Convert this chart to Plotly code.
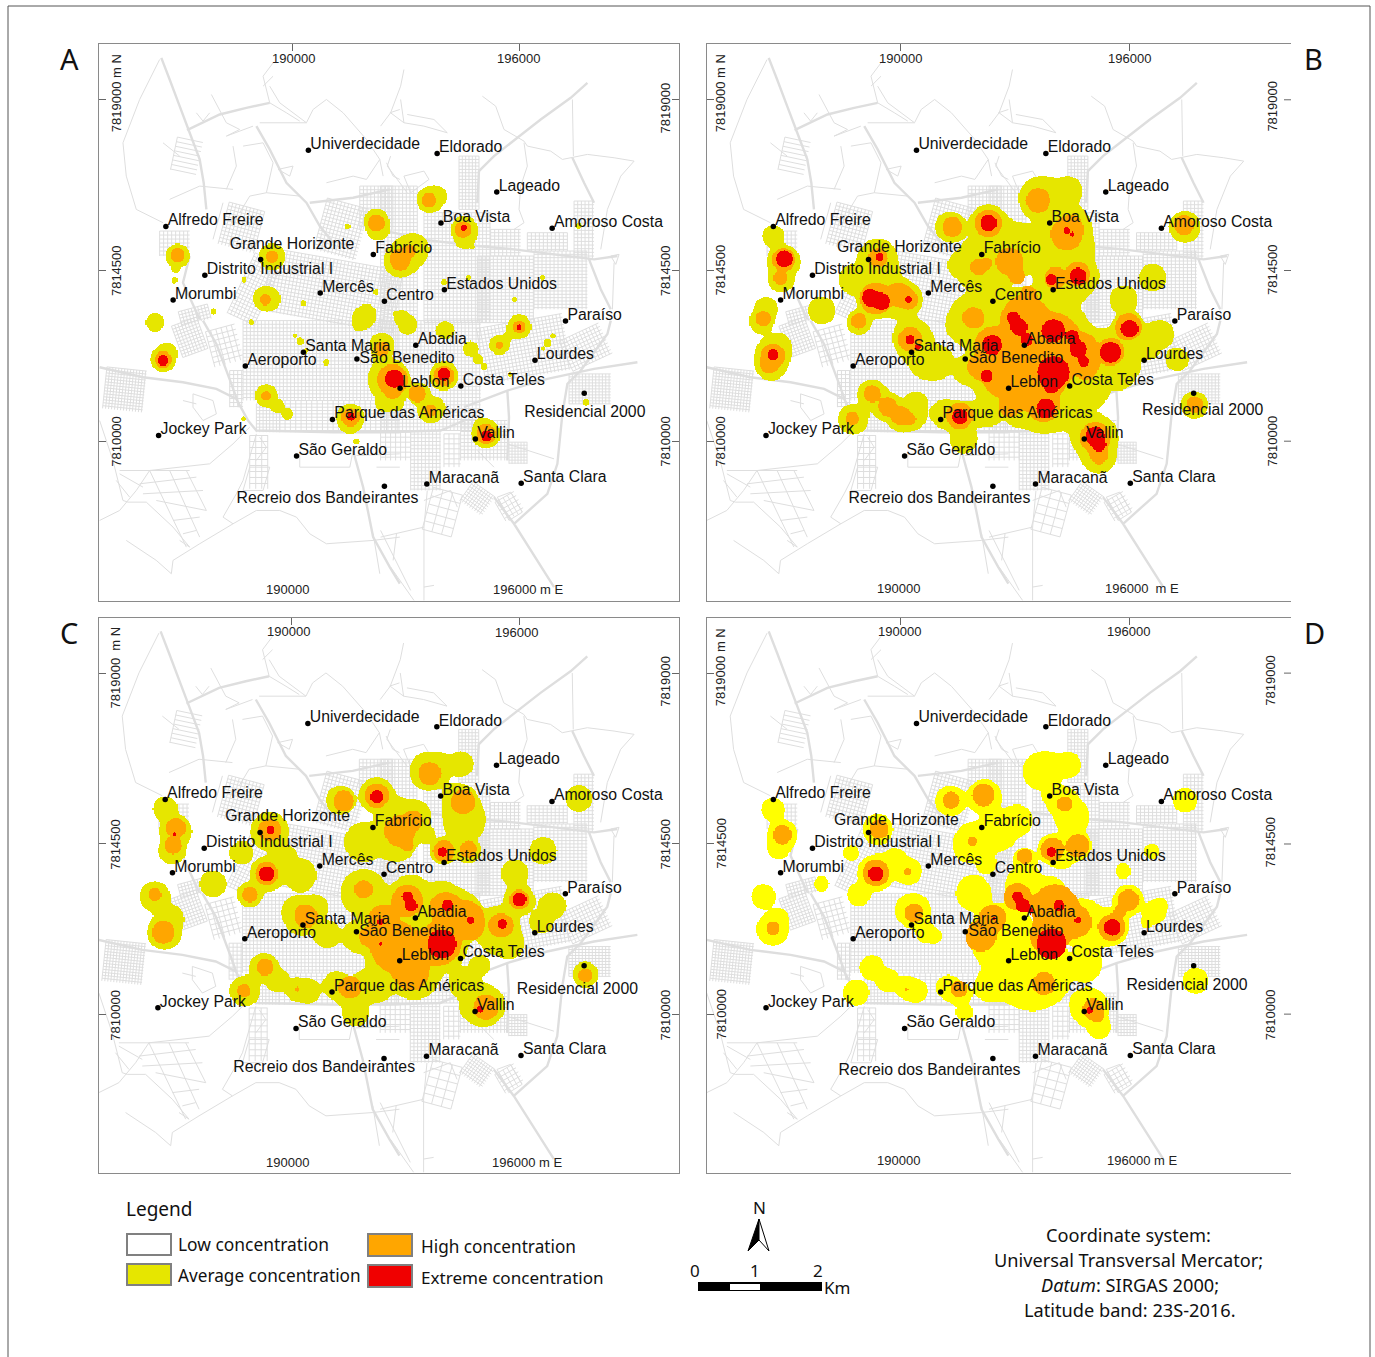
import math
import numpy as np
import plotly.graph_objects as go

W, H = 1375, 1357
YEL, ORG, RED = "#e6e600", "#ffa600", "#f00000"
YEL_D = "#ffff00"
STREET = "#dedede"
FONT_MAP = "Liberation Sans"
FONT_PAGE = "Noto Sans"

# ---- places (map grid units) ----
place_names = ["Univerdecidade", "Eldorado", "Lageado", "Boa Vista", "Amoroso Costa", "Alfredo Freire",
               "Grande Horizonte", "Fabrício", "Distrito Industrial I", "Estados Unidos", "Mercês", "Morumbi",
               "Centro", "Paraíso", "Abadia", "Santa Maria", "Lourdes", "Aeroporto", "São Benedito", "Leblon",
               "Costa Teles", "Residencial 2000", "Parque das Américas", "Jockey Park", "Vallin", "São Geraldo",
               "Recreio dos Bandeirantes", "Maracanã", "Santa Clara"]
place_x = [570, 907, 1063, 917, 1208, 197, 445, 740, 299, 926, 601, 216, 769, 1243, 851, 557, 1163, 405, 697, 810,
           969, 1292, 633, 178, 1007, 539, 769, 880, 1127]
place_y = [304, 313, 419, 504, 519, 514, 605, 591, 648, 688, 697, 716, 720, 774, 841, 860, 882, 898, 879, 959,
           953, 973, 1045, 1089, 1099, 1146, 1229, 1223, 1221]

# ---- street network, digitised per map quadrant ----
quad_origin = {1: (23.6, 8.25), 2: (759, 8.25), 3: (23.6, 773), 4: (759, 773)}
q_main = {
    1: [[(185, 45), (210, 110), (240, 190), (270, 270), (300, 350), (312, 420), (320, 500)],
        [(262, 262), (360, 215), (440, 195), (510, 180)],
        [(470, 250), (510, 320), (560, 420), (620, 480), (660, 550), (700, 600)],
        [(630, 480), (760, 465), (870, 440)], [(270, 640), (250, 720), (300, 830)]],
    2: [[(620, 120), (570, 165), (480, 230), (410, 285), (340, 340), (295, 385), (290, 480)],
        [(575, 345), (610, 420), (640, 480)], [(625, 650), (660, 740), (690, 800)],
        [(290, 610), (400, 620), (640, 650), (710, 640)], [(0, 560), (120, 590), (290, 610)]],
    3: [[(0, 140), (130, 170), (250, 185), (350, 205), (410, 235), (445, 300), (470, 330), (700, 335), (900, 335)],
        [(310, 0), (350, 70), (395, 190), (420, 260)],
        [(760, 390), (790, 500), (820, 650), (870, 740), (900, 790)]],
    4: [[(770, 125), (640, 145), (500, 175), (380, 210), (250, 260)],
        [(690, 0), (680, 40), (600, 150), (560, 190), (545, 280), (530, 430), (500, 520), (400, 610)],
        [(340, 530), (400, 610), (520, 800)], [(380, 210), (385, 290), (380, 420)],
        [(0, 335), (180, 330), (250, 300)]],
}
q_minor = {
    1: [[(180, 50), (120, 170), (70, 300), (80, 400), (110, 500), (190, 540)], [(210, 470), (300, 430), (400, 440)],
        [(335, 155), (380, 240)], [(290, 210), (310, 235), (330, 210)], [(380, 240), (420, 260), (380, 280), (460, 250)],
        [(400, 310), (410, 370), (380, 440)], [(430, 310), (490, 300), (520, 360), (500, 450), (450, 460), (420, 510)],
        [(500, 450), (600, 460)], [(510, 180), (490, 100), (520, 60)], [(490, 130), (520, 100)],
        [(510, 130), (540, 180), (620, 240), (640, 200), (680, 170), (730, 210), (800, 290), (840, 350), (850, 400)],
        [(620, 240), (480, 240)], [(680, 420), (760, 400), (800, 410), (840, 350)], [(870, 210), (900, 200)],
        [(860, 360), (880, 400), (900, 410)], [(370, 480), (340, 590)], [(510, 180), (560, 210), (600, 235)],
        [(190, 300), (240, 340)], [(535, 380), (580, 370), (570, 400), (535, 380)]],
    2: [[(305, 160), (345, 190), (370, 260), (430, 295), (440, 310), (510, 325), (545, 350), (620, 335), (700, 345),
         (760, 355), (720, 400), (680, 500), (660, 620)],
        [(430, 300), (440, 370), (420, 430), (415, 500), (430, 540), (400, 560)],
        [(70, 80), (60, 130), (30, 210), (70, 240), (130, 250), (200, 270)], [(80, 215), (160, 230), (200, 270)],
        [(70, 240), (60, 170)], [(30, 340), (20, 370), (50, 410), (80, 450)],
        [(70, 400), (130, 385), (145, 410), (90, 450), (70, 400)], [(575, 170), (578, 340)],
        [(690, 640), (715, 635), (705, 665), (690, 640)], [(700, 660), (695, 800)], [(0, 250), (30, 210)]],
    3: [[(0, 300), (40, 420), (70, 540), (85, 545)], [(0, 600), (60, 570), (110, 510), (150, 450), (330, 430), (400, 370), (450, 320)],
        [(60, 450), (270, 450)], [(150, 450), (260, 680)], [(210, 450), (300, 650)], [(260, 450), (320, 570)],
        [(120, 490), (290, 470)], [(130, 520), (310, 510)], [(170, 540), (320, 570)], [(220, 600), (300, 590)],
        [(250, 640), (290, 630)], [(270, 680), (240, 660)], [(85, 545), (140, 545), (220, 620), (270, 680)],
        [(470, 340), (430, 480), (410, 520), (370, 590), (400, 610), (470, 570), (540, 570), (590, 590), (630, 640),
         (680, 670), (820, 660), (900, 650)],
        [(400, 610), (300, 670), (220, 720), (215, 760), (170, 720), (80, 660)],
        [(600, 390), (600, 440), (750, 440), (760, 390)], [(280, 220), (340, 240), (350, 280), (310, 300), (280, 260), (280, 220)],
        [(250, 240), (290, 250)], [(450, 440), (510, 440), (490, 510), (430, 510), (450, 440)],
        [(480, 350), (500, 380), (470, 420)], [(770, 405), (900, 400)], [(830, 440), (900, 440)],
        [(820, 640), (840, 760)], [(890, 640), (880, 720)], [(60, 460), (130, 500)], [(50, 480), (90, 530)]],
    4: [[(290, 390), (340, 440)], [(380, 370), (520, 415)], [(130, 540), (210, 510), (230, 560)],
        [(350, 530), (390, 515), (425, 575), (385, 600), (350, 530)], [(0, 630), (90, 810)], [(130, 620), (130, 840)],
        [(130, 800), (160, 795)], [(0, 650), (130, 620)], [(30, 740), (100, 840)], [(140, 510), (130, 620)]],
}
# x0, y0, x1, y1, spacing x, spacing y, angle in degrees
q_blocks = {
    1: [(180, 565, 270, 640, 12, 12, 0), (222, 290, 300, 390, 1000, 14, 12), (370, 490, 480, 620, 11, 11, 15),
        (660, 480, 790, 640, 11, 11, 15), (780, 430, 880, 560, 11, 11, 0), (500, 650, 900, 840, 11, 11, 10),
        (240, 795, 330, 840, 10, 10, -15), (420, 640, 510, 840, 11, 11, 25)],
    2: [(235, 340, 295, 500, 10, 10, 0), (0, 430, 110, 840, 11, 11, 0), (130, 510, 330, 840, 11, 11, 0),
        (330, 560, 420, 640, 12, 10, 0), (440, 570, 560, 625, 12, 10, 0), (460, 625, 620, 800, 12, 10, 0),
        (580, 475, 640, 650, 11, 11, 0), (290, 640, 460, 840, 12, 10, 0)],
    3: [(15, 145, 135, 270, 9, 9, 6), (230, 0, 310, 100, 10, 10, -20), (330, 20, 420, 130, 16, 16, -15),
        (390, 150, 430, 260, 12, 12, 0), (430, 0, 900, 240, 11, 11, 0), (540, 240, 900, 335, 16, 10, 0),
        (470, 250, 540, 335, 10, 10, 0), (450, 345, 505, 505, 18, 18, 0)],
    4: [(0, 0, 300, 330, 11, 11, 0), (300, 0, 560, 170, 11, 11, -10), (550, 30, 680, 130, 11, 11, -25),
        (565, 160, 690, 250, 10, 9, 0), (385, 365, 440, 430, 9, 9, 0), (90, 330, 180, 510, 11, 11, 0),
        (250, 500, 330, 570, 9, 9, 35), (240, 300, 380, 420, 11, 11, 0), (140, 510, 230, 640, 30, 26, 15),
        (355, 525, 420, 590, 14, 14, -30), (190, 340, 240, 440, 15, 15, 0), (0, 335, 90, 420, 15, 15, 0)],
}

# ---- density blobs: x, y, radius (map grid units) per panel and class ----
A_yellow = [(888, 440, 34), (905, 430, 26), (748, 495, 30), (752, 520, 30), (810, 610, 42), (845, 575, 40), (830, 590, 40),
            (978, 520, 34), (980, 545, 28), (1000, 570, 6), (228, 595, 32), (222, 630, 10), (219, 662, 8), (475, 597, 35),
            (458, 712, 32), (470, 715, 26), (168, 778, 24), (190, 880, 33), (200, 860, 25), (322, 748, 9), (402, 660, 7),
            (557, 725, 7), (420, 777, 8), (747, 694, 7), (672, 514, 8), (925, 667, 8), (990, 655, 7), (1183, 655, 8),
            (1110, 715, 7), (1278, 512, 8), (715, 765, 30), (700, 785, 14), (725, 750, 20), (815, 765, 20), (830, 785, 25),
            (800, 755, 8), (928, 800, 24), (995, 850, 20), (1015, 880, 14), (1030, 900, 8), (1070, 840, 26), (1122, 790, 32),
            (1095, 815, 12), (1197, 835, 10), (1210, 815, 7), (1185, 850, 6), (548, 830, 10), (535, 815, 5), (565, 855, 7),
            (763, 840, 32), (760, 870, 18), (617, 888, 8), (780, 935, 55), (800, 950, 30), (770, 1000, 24), (800, 1000, 20),
            (925, 925, 38), (860, 975, 28), (890, 1020, 34), (905, 1010, 20), (460, 980, 30), (490, 1010, 18), (515, 1030, 15),
            (400, 1043, 7), (680, 1040, 37), (680, 1060, 22), (695, 1105, 8), (1035, 1085, 38), (1025, 1060, 18), (1297, 998, 8),
            (1097, 922, 7)]
A_orange = [(885, 442, 20), (748, 505, 22), (810, 605, 28), (835, 580, 16), (975, 522, 22), (228, 593, 19), (475, 597, 16),
            (458, 715, 15), (190, 880, 22), (1070, 840, 10), (1122, 790, 16), (762, 850, 20), (790, 935, 40), (790, 970, 18),
            (925, 925, 27), (855, 975, 22), (890, 1020, 16), (460, 980, 13), (680, 1040, 24), (1035, 1085, 26)]
A_red = [(977, 518, 9), (190, 882, 14), (1122, 791, 7), (795, 933, 24), (810, 945, 10), (925, 920, 17), (682, 1038, 10),
         (1038, 1090, 14)]

B_yellow = [(191, 540, 28), (218, 610, 44), (212, 660, 34), (172, 740, 30), (160, 775, 32), (190, 865, 45), (185, 895, 40),
            (205, 840, 30), (318, 745, 36), (415, 778, 32), (465, 600, 50), (430, 610, 18), (400, 660, 38), (460, 712, 50),
            (520, 710, 50), (545, 715, 35), (480, 640, 40), (555, 820, 50), (590, 890, 40), (565, 850, 40), (620, 890, 40),
            (655, 515, 40), (755, 505, 48), (790, 540, 30), (740, 620, 70), (810, 580, 70), (850, 560, 40), (680, 620, 30),
            (890, 435, 55), (965, 415, 36), (920, 430, 40), (960, 520, 65), (985, 575, 45), (930, 530, 30), (1270, 515, 42),
            (930, 640, 40), (960, 650, 70), (1000, 650, 40), (940, 700, 40), (1185, 655, 36), (1110, 715, 36), (715, 770, 65),
            (680, 790, 30), (760, 750, 25), (770, 830, 60), (850, 780, 85), (930, 820, 90), (900, 900, 105), (800, 920, 90),
            (1000, 870, 60), (1020, 960, 50), (900, 1000, 78), (1080, 870, 60), (1110, 900, 40), (1100, 930, 30), (960, 1020, 40),
            (830, 1030, 30), (760, 1030, 30), (700, 910, 35), (620, 885, 30), (1075, 860, 45), (1122, 790, 40), (1100, 830, 25),
            (1205, 810, 36), (1175, 850, 28), (1250, 880, 30), (1180, 820, 30), (450, 975, 38), (490, 1010, 38), (530, 1040, 38),
            (565, 1000, 30), (560, 1040, 30), (400, 1045, 40), (640, 1030, 36), (680, 1040, 40), (690, 1100, 36), (730, 1030, 30),
            (1035, 1095, 60), (1045, 1150, 42), (1000, 1080, 25), (1295, 1005, 36)]
B_orange = [(218, 605, 30), (210, 655, 18), (165, 768, 20), (190, 870, 32), (180, 895, 22), (415, 775, 20), (465, 600, 25),
            (460, 712, 42), (520, 700, 30), (545, 715, 25), (550, 825, 32), (660, 515, 26), (755, 505, 36), (810, 610, 36),
            (730, 625, 22), (750, 615, 14), (830, 650, 20), (885, 442, 32), (960, 535, 42), (975, 510, 25), (1268, 510, 26),
            (930, 655, 28), (990, 645, 32), (715, 765, 28), (765, 840, 45), (850, 770, 62), (860, 700, 20), (930, 820, 62),
            (1000, 850, 40), (900, 910, 72), (800, 920, 62), (730, 900, 30), (840, 980, 36), (900, 1010, 40), (810, 1010, 26),
            (1010, 900, 32), (1075, 860, 35), (1122, 790, 35), (450, 975, 22), (490, 1010, 24), (525, 1035, 25), (550, 1045, 15),
            (398, 1043, 18), (680, 1035, 35), (1035, 1095, 40), (1045, 1145, 22), (1295, 1005, 22)]
B_red = [(220, 603, 22), (190, 867, 14), (470, 598, 10), (445, 710, 22), (475, 720, 22), (545, 715, 9),
         (550, 825, 12), (570, 845, 8), (755, 505, 22), (960, 525, 8), (975, 535, 6), (920, 660, 14), (990, 650, 22),
         (820, 765, 16), (835, 790, 22), (855, 825, 16), (925, 800, 30), (975, 815, 16), (990, 850, 22), (1005, 885, 14),
         (925, 915, 42), (920, 950, 20), (765, 840, 26), (750, 925, 16), (905, 1015, 25), (1075, 860, 28), (1125, 795, 23),
         (680, 1038, 20), (1035, 1090, 25), (1045, 1115, 18)]

C_yellow = [(197, 548, 32), (225, 610, 42), (215, 665, 35), (170, 790, 40), (195, 890, 45), (210, 850, 35), (322, 755, 35),
            (418, 785, 33), (470, 610, 50), (395, 670, 30), (465, 728, 45), (510, 680, 30), (550, 730, 42), (540, 830, 36),
            (590, 820, 32), (555, 850, 45), (620, 895, 35), (655, 525, 38), (750, 510, 45), (790, 550, 30), (715, 640, 50),
            (810, 590, 60), (850, 570, 40), (800, 640, 50), (880, 620, 20), (885, 445, 50), (970, 425, 32), (920, 430, 30),
            (970, 530, 45), (980, 580, 55), (950, 510, 25), (1278, 520, 35), (925, 665, 35), (990, 665, 32), (1185, 665, 36),
            (1110, 725, 35), (715, 780, 60), (770, 830, 40), (840, 790, 55), (920, 790, 40), (960, 840, 65), (915, 920, 70),
            (800, 950, 80), (850, 1010, 60), (720, 1040, 40), (980, 1030, 40), (1020, 980, 25), (700, 900, 40), (1070, 870, 50),
            (1095, 920, 40), (1060, 900, 40), (1122, 798, 40), (1210, 815, 35), (1180, 860, 30), (455, 985, 38), (490, 1020, 30),
            (540, 1045, 30), (570, 1050, 32), (405, 1050, 40), (645, 1035, 36), (680, 1060, 35), (695, 1110, 35), (755, 1040, 35),
            (1030, 1090, 55), (1000, 1095, 30), (1295, 1005, 34)]
C_orange = [(225, 600, 26), (218, 650, 22), (170, 785, 17), (192, 888, 30), (418, 785, 20), (470, 607, 30), (462, 727, 30),
            (565, 845, 30), (555, 830, 15), (663, 527, 27), (750, 512, 32), (810, 610, 40), (845, 580, 25), (830, 650, 15),
            (888, 452, 30), (975, 530, 32), (925, 665, 28), (990, 660, 22), (715, 770, 24), (765, 850, 35), (830, 800, 40),
            (930, 820, 40), (985, 850, 45), (915, 920, 55), (800, 930, 65), (840, 1000, 45), (1000, 880, 25), (730, 900, 25),
            (1075, 870, 32), (1122, 798, 26), (458, 985, 22), (542, 1045, 6), (403, 1050, 17), (680, 1040, 30), (1035, 1095, 33),
            (1295, 1007, 18)]
C_red = [(222, 618, 5), (473, 607, 10), (463, 727, 20), (750, 516, 17), (922, 667, 12), (830, 790, 14), (840, 815, 16),
         (935, 815, 15), (995, 855, 10), (920, 920, 38), (760, 860, 9), (760, 920, 5), (1123, 798, 18), (1078, 865, 12),
         (1020, 1100, 8)]

D_yellow = [(190, 550, 30), (215, 620, 40), (205, 655, 30), (165, 790, 32), (190, 880, 43), (205, 850, 25), (317, 755, 20),
            (415, 785, 30), (395, 670, 20), (465, 605, 40), (460, 725, 48), (510, 690, 30), (545, 720, 35), (560, 830, 45),
            (590, 890, 25), (612, 898, 20), (545, 825, 30), (655, 527, 40), (745, 515, 45), (715, 640, 50), (780, 610, 50),
            (830, 580, 40), (700, 660, 30), (760, 640, 25), (895, 445, 50), (965, 428, 33), (920, 430, 30), (950, 530, 40),
            (975, 570, 45), (920, 515, 22), (1270, 525, 32), (925, 660, 40), (985, 650, 40), (950, 680, 30), (1183, 665, 20),
            (1108, 720, 20), (715, 780, 45), (750, 700, 25), (850, 760, 50), (790, 900, 85), (870, 1000, 100), (780, 1020, 40),
            (1000, 860, 60), (920, 780, 40), (1010, 980, 40), (1020, 950, 25), (1050, 880, 40), (850, 690, 30), (1078, 875, 45),
            (1122, 800, 40), (1190, 835, 30), (1205, 815, 20), (1170, 860, 15), (450, 985, 32), (490, 1020, 30), (540, 1040, 30),
            (565, 1050, 30), (408, 1055, 34), (650, 1040, 32), (680, 1060, 30), (692, 1110, 22), (755, 1040, 35), (1020, 1095, 50),
            (1045, 1150, 30), (1298, 1022, 34)]
D_orange = [(215, 620, 25), (190, 878, 18), (468, 605, 25), (460, 725, 35), (543, 722, 10), (560, 835, 25), (657, 525, 22),
            (742, 510, 30), (713, 638, 12), (955, 535, 20), (922, 660, 30), (990, 650, 30), (850, 680, 20), (765, 850, 35),
            (830, 790, 35), (930, 820, 60), (985, 860, 40), (915, 900, 50), (735, 900, 40), (900, 1030, 30), (1078, 875, 35),
            (1122, 800, 28), (1100, 830, 15), (540, 1045, 5), (678, 1045, 22), (1030, 1100, 28), (1040, 1120, 16)]
D_red = [(460, 727, 20), (920, 667, 12), (830, 790, 14), (845, 815, 18), (865, 830, 8), (940, 815, 15), (990, 855, 9),
         (920, 920, 40), (770, 850, 5), (1080, 875, 22), (1020, 1103, 8)]

# ---- panel set-up ----
panels = [
    dict(name="A", dom=(99, 679, 43.5, 601), xr=(22, 1540), yr=(1545, 10), tf=(1, 0, 1, 0), right=True, yel=YEL,
         blobs=(A_yellow, A_orange, A_red), xt=(528, 1123), yt=(165, 635, 1105), lx=68, rx=1505,
         lefts=[("7819000 m N", 148), ("7814500", 635), ("7810000", 1105)],
         rights=[("7819000", 187), ("7814500", 635), ("7810000", 1105)],
         tops=[("190000", 531, 52), ("196000", 1119, 52)], bots=[("190000", 515, 1512), ("196000 m E", 1144, 1512)],
         lab={"Grande Horizonte": (364, 566), "Residencial 2000": (1135, 1027), "Recreio dos Bandeirantes": (382, 1263),
              "São Benedito": (704, 880)}),
    dict(name="B", dom=(706.5, 1291, 43.5, 601), xr=(16, 1547), yr=(1545, 10), tf=(1.00548, -7.08, 1, 0), right=False, yel=YEL,
         blobs=(B_yellow, B_orange, B_red), xt=(523, 1123), yt=(165, 635, 1105), lx=53, rx=1498,
         lefts=[("7819000 m N", 148), ("7814500", 633), ("7810000", 1105)],
         rights=[("7819000", 183), ("7814500", 633), ("7810000", 1105)],
         tops=[("190000", 525, 52), ("196000", 1123, 52)], bots=[("190000", 520, 1510), ("196000  m E", 1158, 1510)],
         lab={"Grande Horizonte": (358, 574), "Residencial 2000": (1157, 1022), "Recreio dos Bandeirantes": (388, 1263),
              "São Benedito": (702, 880)}),
    dict(name="C", dom=(99, 679, 617.5, 1173), xr=(24, 1540), yr=(1550, 22), tf=(1, 0, 0.996, 11), right=True, yel=YEL,
         blobs=(C_yellow, C_orange, C_red), xt=(528, 1123), yt=(175, 645, 1113), lx=68, rx=1505,
         lefts=[("7819000  m N", 160), ("7814500", 645), ("7810000", 1115)],
         rights=[("7819000", 197), ("7814500", 645), ("7810000", 1115)],
         tops=[("190000", 518, 60), ("196000", 1115, 62)], bots=[("190000", 517, 1520), ("196000 m E", 1143, 1520)],
         lab={"Grande Horizonte": (354, 571), "Residencial 2000": (1116, 1046), "Recreio dos Bandeirantes": (375, 1261),
              "São Benedito": (704, 887)}),
    dict(name="D", dom=(706.5, 1291, 617.5, 1173), xr=(16, 1547), yr=(1550, 22), tf=(1.00548, -7.08, 0.996, 11), right=False, yel=YEL_D,
         blobs=(D_yellow, D_orange, D_red), xt=(523, 1123), yt=(175, 645, 1113), lx=55, rx=1493,
         lefts=[("7819000 m N", 158), ("7814500", 643), ("7810000", 1113)],
         rights=[("7819000", 195), ("7814500", 640), ("7810000", 1115)],
         tops=[("190000", 521, 60), ("196000", 1122, 60)], bots=[("190000", 520, 1515), ("196000 m E", 1157, 1515)],
         lab={"Grande Horizonte": (350, 581), "Residencial 2000": (1116, 1037), "Recreio dos Bandeirantes": (362, 1269),
              "São Benedito": (702, 887)}),
]


def to_map(q, pts):
    ox, oy = quad_origin[q]
    return [(ox + 0.873 * u, oy + 0.917 * v) for u, v in pts]


def block_lines(block):
    x0, y0, x1, y1, sx, sy, ang = block
    cx, cy = (x0 + x1) / 2, (y0 + y1) / 2
    c, s = math.cos(math.radians(ang)), math.sin(math.radians(ang))
    rot = lambda p, q: (cx + (p - cx) * c - (q - cy) * s, cy + (p - cx) * s + (q - cy) * c)
    segs = []
    v = x0
    while v <= x1:
        segs.append([rot(v, y0), rot(v, y1)])
        v += sx
    v = y0
    while v <= y1:
        segs.append([rot(x0, v), rot(x1, v)])
        v += sy
    return segs


def svg_path(lines, tf):
    a, b, d, e = tf
    parts = []
    for ln in lines:
        for j, (p, q) in enumerate(ln):
            parts.append(f"{'M' if j == 0 else 'L'}{a * p + b:.1f},{d * q + e:.1f}")
    return " ".join(parts)


main_roads = [to_map(q, ln) for q, lst in q_main.items() for ln in lst]
minor_roads = [to_map(q, ln) for q, lst in q_minor.items() for ln in lst]
grid_lines = [to_map(q, seg) for q, lst in q_blocks.items() for block in lst for seg in block_lines(block)]


def class_grid(blob_sets, xr, yr, step=3):
    """One raster per panel: blobs of a class merge softly, higher classes sit on top; empty cells stay blank."""
    gx = np.arange(min(xr), max(xr) + step, step, dtype=float)
    gy = np.arange(min(yr), max(yr) + step, step, dtype=float)
    xx, yy = np.meshgrid(gx, gy)
    out = np.full(xx.shape, np.nan, dtype="float32")
    for level, blobs in enumerate(blob_sets, start=1):
        f = np.zeros_like(xx)
        for bx, by, br in blobs:
            d2 = (xx - bx) ** 2 + ((yy - by) / 1.05) ** 2 + 1.0
            f += (br * br / d2) ** 2.5
        out[f >= 1.0] = level
    return gx, gy, out


fig = go.Figure()
annotations, shapes = [], []


def px_text(text, x, y, size, anchor="left", font=FONT_PAGE, color="#111"):
    annotations.append(dict(text=text, x=x / W, y=1 - y / H, xref="paper", yref="paper", showarrow=False,
                            xanchor=anchor, yanchor="middle", font=dict(family=font, size=size, color=color)))


def px_rect(x0, y0, x1, y1, fill, line=None, lw=0):
    shapes.append(dict(type="rect", xref="paper", yref="paper", x0=x0 / W, x1=x1 / W, y0=1 - y0 / H, y1=1 - y1 / H,
                       fillcolor=fill, line=dict(color=line or fill, width=lw)))


for i, p in enumerate(panels):
    k = "" if i == 0 else str(i + 1)
    xa, ya = "x" + k, "y" + k
    l, r, t, b = p["dom"]
    fig.update_layout(**{
        "xaxis" + k: dict(domain=[l / W, r / W], range=list(p["xr"]), anchor=ya, side="top", showgrid=False, zeroline=False,
                          tickmode="array", tickvals=list(p["xt"]), ticktext=["", ""], ticks="inside", ticklen=7,
                          tickcolor="#666", showline=True, linecolor="#8a8a8a", linewidth=1, mirror=True),
        "yaxis" + k: dict(domain=[1 - b / H, 1 - t / H], range=list(p["yr"]), anchor=xa, showgrid=False, zeroline=False,
                          tickmode="array", tickvals=list(p["yt"]), ticktext=["", "", ""], ticks="inside", ticklen=7,
                          tickcolor="#666", showline=True, linecolor="#8a8a8a", linewidth=1,
                          mirror="ticks" if p["right"] else False),
    })
    if not p["right"]:
        for v in p["yt"]:
            shapes.append(dict(type="line", xref="paper", yref=ya, x0=(r - 7) / W, x1=r / W, y0=v, y1=v,
                               line=dict(color="#666", width=1)))
    for roads, lw in ((grid_lines, 1), (minor_roads, 1), (main_roads, 2.4)):
        shapes.append(dict(type="path", xref=xa, yref=ya, layer="below", path=svg_path(roads, p["tf"]),
                           line=dict(color=STREET, width=lw)))
    gx, gy, gz = class_grid(p["blobs"], p["xr"], p["yr"])
    fig.add_trace(go.Heatmap(x=gx, y=gy, z=gz, xaxis=xa, yaxis=ya, showscale=False, hoverinfo="skip", zmin=1, zmax=3,
                             colorscale=[[0, p["yel"]], [0.25, p["yel"]], [0.25, ORG], [0.75, ORG], [0.75, RED], [1, RED]]))
    a, bb, d, e = p["tf"]
    dx = [a * v + bb for v in place_x]
    dy = [d * v + e for v in place_y]
    fig.add_trace(go.Scatter(x=dx, y=dy, mode="markers", marker=dict(size=5.5, color="#000"), xaxis=xa, yaxis=ya,
                             hoverinfo="skip", showlegend=False))
    lab_x, lab_y = [], []
    for n, u, v in zip(place_names, dx, dy):
        pos = p["lab"].get(n, (u + 5, v - 14))
        lab_x.append(pos[0])
        lab_y.append(pos[1])
    fig.add_trace(go.Scatter(x=lab_x, y=lab_y, mode="text", text=place_names, textposition="middle right", xaxis=xa, yaxis=ya,
                             textfont=dict(family=FONT_MAP, size=15.8, color="#111"), cliponaxis=False,
                             hoverinfo="skip", showlegend=False))
    lab_font = dict(family=FONT_MAP, size=13, color="#222")
    for txt, yy in p["lefts"]:
        annotations.append(dict(text=txt, x=p["lx"], y=yy, xref=xa, yref=ya, showarrow=False, textangle=-90, font=lab_font))
    for txt, yy in p["rights"]:
        annotations.append(dict(text=txt, x=p["rx"], y=yy, xref=xa, yref=ya, showarrow=False, textangle=-90, font=lab_font))
    for txt, xx, yy in p["tops"] + p["bots"]:
        annotations.append(dict(text=txt, x=xx, y=yy, xref=xa, yref=ya, showarrow=False, font=lab_font))

# page frame
shapes.append(dict(type="path", xref="paper", yref="paper", line=dict(color="#555", width=1),
                   path=f"M {8/W} 0 L {8/W} {1-6/H} L {1370/W} {1-6/H} L {1370/W} 0"))

# panel letters
for s, x, y in (("A", 69, 59), ("B", 1313, 58), ("C", 69, 632), ("D", 1314, 632)):
    px_text(s, x, y, 29, anchor="center")

# legend
px_text("Legend", 124, 1209, 19)
px_rect(127, 1234, 171, 1255, "#ffffff", "#808080", 2)
px_rect(127, 1264, 171, 1285, YEL, "#808080", 2)
px_rect(368, 1234, 412, 1256, ORG, "#808080", 2)
px_rect(368, 1265, 412, 1287, RED, "#808080", 2)
px_text("Low concentration", 176, 1244, 17.4)
px_text("Average concentration", 176, 1275, 17.2)
px_text("High concentration", 419, 1246, 17.2)
px_text("Extreme concentration", 419, 1277, 17.1)

# north arrow
px_text("N", 759, 1207, 17, anchor="center")
pp = lambda x, y: f"{x/W} {1-y/H}"
shapes.append(dict(type="path", xref="paper", yref="paper", fillcolor="#000", line=dict(color="#000", width=1),
                   path=f"M {pp(759,1219)} L {pp(748,1251)} L {pp(759,1240)} Z"))
shapes.append(dict(type="path", xref="paper", yref="paper", fillcolor="#fff", line=dict(color="#000", width=1),
                   path=f"M {pp(759,1219)} L {pp(769,1251)} L {pp(759,1240)} Z"))

# scale bar
px_rect(698, 1282, 822, 1291, "#000")
px_rect(730, 1284, 760, 1290, "#fff")
px_text("0", 695, 1270, 17, anchor="center")
px_text("1", 755, 1270, 17, anchor="center")
px_text("2", 818, 1270, 17, anchor="center")
px_text("Km", 837, 1287, 17, anchor="center")

# coordinate note
px_text("Coordinate system:", 1128, 1235, 18.2, anchor="center")
px_text("Universal Transversal Mercator;", 1128, 1260, 18.2, anchor="center")
px_text("<i>Datum</i>: SIRGAS 2000;", 1130, 1285, 18.2, anchor="center")
px_text("Latitude band: 23S-2016.", 1130, 1310, 18.2, anchor="center")

fig.update_layout(width=W, height=H, autosize=False, margin=dict(l=0, r=0, t=0, b=0), paper_bgcolor="#fff",
                  plot_bgcolor="#fff", showlegend=False, annotations=annotations, shapes=shapes)
fig.write_html("out.html", config={"displayModeBar": False},
               post_script="document.body.style.margin='0';document.body.style.overflow='hidden';")
